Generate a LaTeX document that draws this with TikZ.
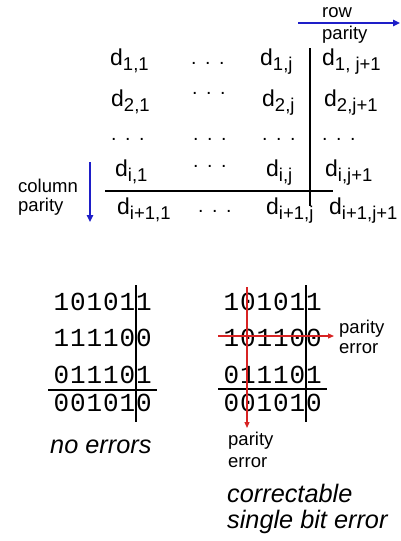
\documentclass[tikz,border=0pt]{standalone}
\usepackage{fontspec}
\setmainfont{Liberation Sans}
\newfontfamily\monofnt{Liberation Mono}
\usetikzlibrary{arrows.meta}
\definecolor{pblue}{RGB}{30,30,200}
\definecolor{pred}{RGB}{215,35,35}
\newcommand{\dsub}[1]{d\raisebox{-5.5pt}{\fontsize{18.5}{18.5}\selectfont #1}}
\newcommand{\tdots}{.\hspace{8.5pt}.\hspace{8.5pt}.}
\def\bitrow#1{\bitrowi#1\relax}
\def\bitrowi#1{\ifx#1\relax\else\makebox[16.5pt][c]{#1}\expandafter\bitrowi\fi}
\tikzset{
  dlab/.style={anchor=base west, inner sep=0pt, font=\fontsize{23}{24}\selectfont},
  dotlab/.style={anchor=base west, inner sep=0pt, font=\fontsize{19.5}{20}\selectfont},
  small/.style={anchor=base west, inner sep=0pt, font=\fontsize{18.5}{18.5}\selectfont},
  bits/.style={anchor=base west, inner sep=0pt, font=\monofnt\fontsize{26}{27}\selectfont},
  caption/.style={anchor=base west, inner sep=0pt, font=\itshape\fontsize{25.3}{26}\selectfont},
  rule/.style={draw=black, line width=1.4pt},
  barrow/.style={draw=pblue, line width=1.5pt, -{Triangle[length=7pt,width=6.5pt]}},
  rarrow/.style={draw=pred, line width=1.2pt, -{Triangle[length=6pt,width=5pt]}}
}
\begin{document}
\begin{tikzpicture}[x=1pt,y=-1pt]
\useasboundingbox (0,0) rectangle (400,541);
% ---- top matrix ----
\node[small] (rowa) at (322,17) {row};
\node[small] (rowb) at (322,39) {parity};
\coordinate (ra1) at (298,23);
\coordinate (ra2) at (400,23);
\draw[barrow] (ra1) -- (ra2);
\node[small] (cola) at (18,192) {column};
\node[small] (colb) at (18,211) {parity};
\coordinate (ca1) at (90,162);
\coordinate (ca2) at (90,222);
\draw[barrow] (ca1) -- (ca2);

\node[dlab] (d11) at (110,65) {\dsub{1,1}};
\node[dotlab] (r1d) at (191,64) {\tdots};
\node[dlab] (d1j) at (260,65) {\dsub{1,j}};
\node[dlab] (d1p) at (322,65) {\dsub{1, j+1}};

\node[dlab] (d21) at (111,106) {\dsub{2,1}};
\node[dotlab] (r2d) at (192,94) {\tdots};
\node[dlab] (d2j) at (262,106) {\dsub{2,j}};
\node[dlab] (d2p) at (324,106) {\dsub{2,j+1}};

\node[dotlab] (r3a) at (111,140) {\tdots};
\node[dotlab] (r3b) at (193,140) {\tdots};
\node[dotlab] (r3c) at (262,140) {\tdots};
\node[dotlab] (r3d) at (322,140) {\tdots};

\node[dlab] (di1) at (115,176) {\dsub{i,1}};
\node[dotlab] (r4d) at (193,167) {\tdots};
\node[dlab] (dij) at (266,176) {\dsub{i,j}};
\node[dlab] (dip) at (325,176) {\dsub{i,j+1}};

\node[dlab] (dn1) at (117,214) {\dsub{i+1,1}};
\node[dotlab] (r5d) at (198,212) {\tdots};
\node[dlab] (dnj) at (266,214) {\dsub{i+1,j}};
\node[dlab] (dnp) at (329,214) {\dsub{i+1,j+1}};

\coordinate (v1) at (310,48);
\coordinate (v2) at (310,206);
\coordinate (h1) at (105,191);
\coordinate (h2) at (333,191);
\draw[rule] (v1) -- (v2);
\draw[rule] (h1) -- (h2);

% ---- bottom left ----
\node[bits] (l1) at (53,310) {\bitrow{101011}};
\node[bits] (l2) at (53,346) {\bitrow{111100}};
\node[bits] (l3) at (53,383) {\bitrow{011101}};
\node[bits] (l4) at (53,411) {\bitrow{001010}};
\coordinate (lv1) at (136,285);
\coordinate (lv2) at (136,422);
\coordinate (lh1) at (48,390);
\coordinate (lh2) at (157,390);
\draw[line width=1.2pt] (lv1) -- (lv2);
\draw[line width=1.2pt] (lh1) -- (lh2);
\node[caption] (ne) at (50,453) {no errors};

% ---- bottom right ----
\node[bits] (q1) at (223,310) {\bitrow{101011}};
\node[bits] (q2) at (223,346) {\bitrow{101100}};
\node[bits] (q3) at (223,383) {\bitrow{011101}};
\node[bits] (q4) at (223,411) {\bitrow{001010}};
\coordinate (qv1) at (306,285);
\coordinate (qv2) at (306,422);
\coordinate (qh1) at (218,389);
\coordinate (qh2) at (327,389);
\draw[line width=1.4pt] (qv1) -- (qv2);
\draw[line width=1.2pt] (qh1) -- (qh2);
\coordinate (rv1) at (247,287);
\coordinate (rv2) at (247,428);
\coordinate (rh1) at (218,336);
\coordinate (rh2) at (334,336);
\draw[rarrow] (rv1) -- (rv2);
\draw[rarrow] (rh1) -- (rh2);
\node[small] (pe1) at (339,333) {parity};
\node[small] (pe2) at (339,353) {error};
\node[small] (pe3) at (228,445) {parity};
\node[small] (pe4) at (228,467) {error};
\node[caption] (c1) at (227,502) {correctable};
\node[caption] (c2) at (227,528) {single bit error};
\end{tikzpicture}
\end{document}
